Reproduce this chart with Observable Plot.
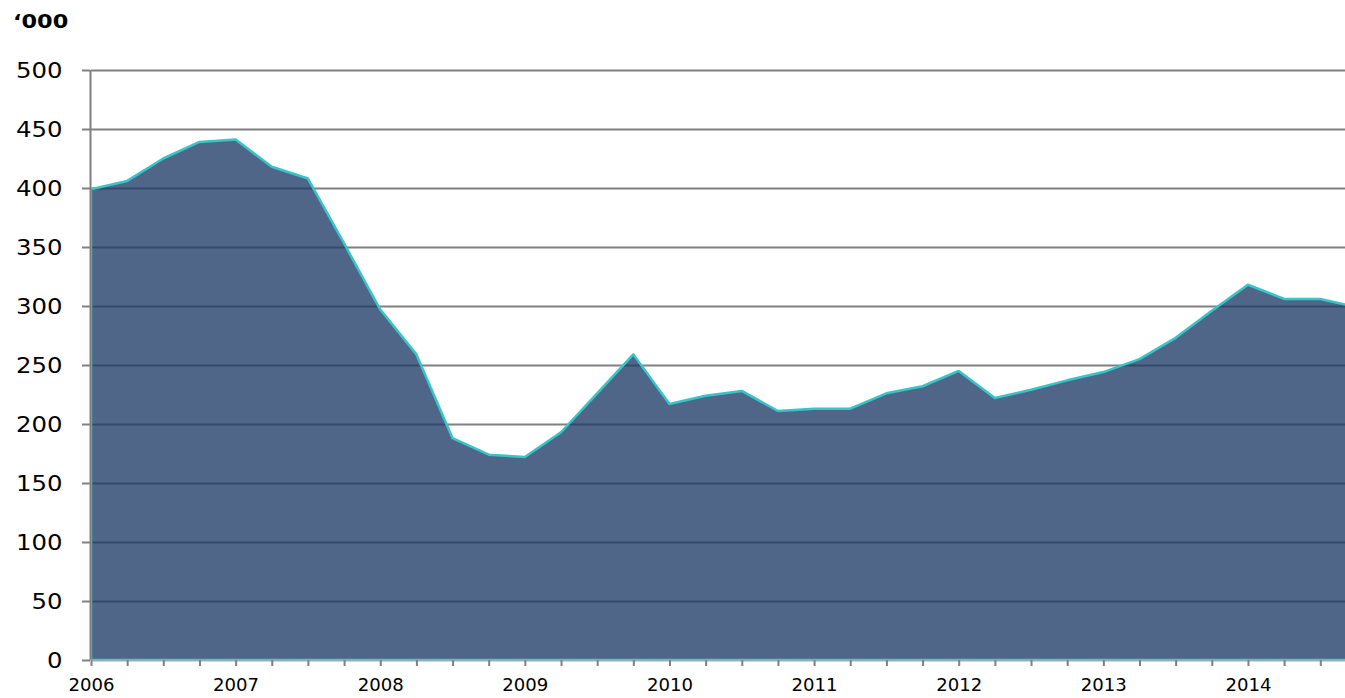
<!DOCTYPE html>
<html>
<head>
<meta charset="utf-8">
<script src="https://cdn.jsdelivr.net/npm/d3@7"></script>
<script src="https://cdn.jsdelivr.net/npm/@observablehq/plot@0.6"></script>
<style>
  html, body { margin: 0; padding: 0; background: white; }
  #wrap { position: relative; width: 1345px; height: 698px; overflow: hidden; }
  #title { position: absolute; left: 13px; top: 9px; font-family: "DejaVu Sans", sans-serif; font-weight: bold; font-size: 20px; line-height: 24px; color: #000; transform: scaleX(1.12); transform-origin: left top; }
</style>
</head>
<body>
<div id="wrap">
  <div id="chart"></div>
  <div id="title">‘000</div>
</div>
<script>
// Quarterly series, 2006 Q1 .. 2014 Q4 (thousands)
const quarters = d3.range(36).map(i => 2006 + i * 0.25);
const values = [399, 406, 425, 439, 441, 418, 408, 353, 297, 259, 188, 174,
                172, 193, 226, 259, 217, 224, 228, 211, 213, 213, 226, 232,
                245, 222, 229, 237, 244, 255, 273, 296, 318, 306, 306, 299];
const yTicks = [0, 50, 100, 150, 200, 250, 300, 350, 400, 450, 500];
const xTicks = d3.range(35).map(i => 2006 + i * 0.25);
const yearLabels = [2006, 2007, 2008, 2009, 2010, 2011, 2012, 2013, 2014];

const data = quarters.map((q, i) => ({q, v: values[i]}));

const chart = Plot.plot({
  width: 1345,
  height: 698,
  marginTop: 70,
  marginBottom: 38,
  marginLeft: 91,
  marginRight: 0,
  style: {fontFamily: "DejaVu Sans, sans-serif", background: "white", overflow: "hidden"},
  x: {domain: [2006, 2014.671], label: null},
  y: {domain: [0, 500], label: null},
  marks: [
    Plot.ruleY(yTicks.slice(1), {stroke: "#808080", strokeWidth: 2}),
    Plot.areaY(data, {x: "q", y: "v", fill: "#1d3b68", fillOpacity: 0.78,
      stroke: "#36c5c9", strokeWidth: 2.5, clip: true}),
    Plot.ruleX([2006], {stroke: "#808080", strokeWidth: 2, dx: -1}),
    Plot.ruleY([0], {stroke: "#8fb3b8", strokeWidth: 2}),
    Plot.axisY({ticks: yTicks, tickSize: 8, tickPadding: 20, stroke: "#808080",
      strokeWidth: 2, fill: "#000", fontSize: 22, label: null, dx: -1}),
    Plot.axisX({ticks: xTicks, tickSize: 6, tickPadding: 12, stroke: "#808080",
      strokeWidth: 2, fill: "#000", fontSize: 17, label: null,
      tickFormat: d => yearLabels.includes(d) ? String(d) : ""})
  ]
});
document.getElementById("chart").appendChild(chart);
const yStr = yTicks.map(String);
const xStr = yearLabels.map(String);
chart.querySelectorAll("text").forEach(t => {
  const s = t.textContent.trim();
  if (xStr.includes(s)) {
    t.setAttribute("font-size", "17");
    t.setAttribute("textLength", String(11.5 * s.length));
    t.setAttribute("lengthAdjust", "spacingAndGlyphs");
  } else if (yStr.includes(s)) {
    t.setAttribute("font-size", "22");
    t.setAttribute("textLength", String(15.5 * s.length));
    t.setAttribute("lengthAdjust", "spacingAndGlyphs");
  }
});
</script>
</body>
</html>
